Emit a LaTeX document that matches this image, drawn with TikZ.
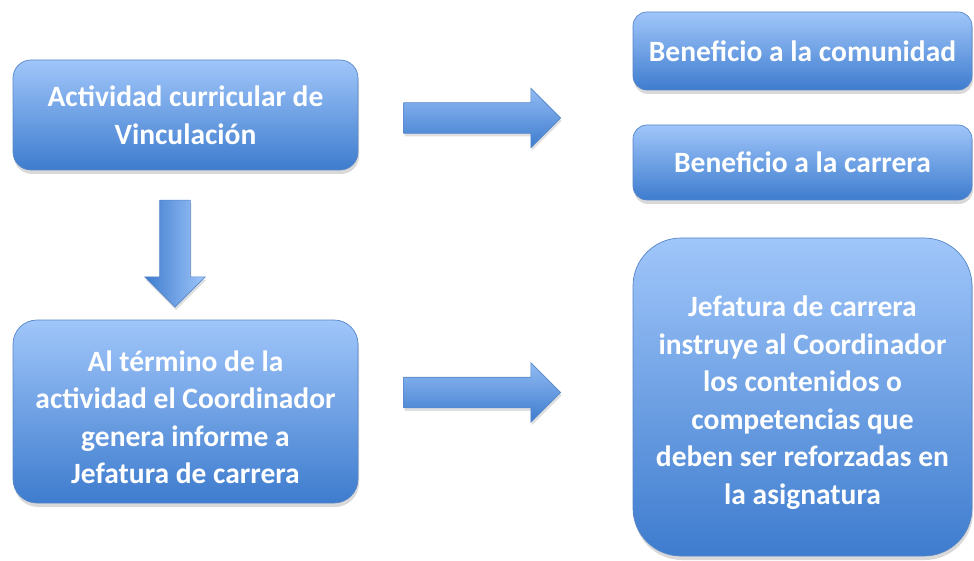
\documentclass[tikz,border=0pt]{standalone}
\usepackage{fontspec}
\setmainfont{Carlito}
\usetikzlibrary{shapes.arrows,shadows}
\definecolor{boxtop}{RGB}{160,198,250}
\definecolor{boxbot}{RGB}{62,124,206}
\definecolor{boxline}{RGB}{86,134,200}
\newcommand{\firstgap}{\rule{0pt}{32pt}}
\begin{document}
\begin{tikzpicture}[x=1pt, y=-1pt, every node/.style={text centered},
	stagebox/.style={draw=boxline, line width=0.7pt, top color=boxtop, bottom color=boxbot,
		rounded corners=18pt, text=white, align=center, inner sep=0pt,
		font=\bfseries\fontsize{29.5}{37.5}\selectfont,
		drop shadow={shadow xshift=1pt, shadow yshift=-4pt, opacity=0.3}},
	flowarrow/.style={single arrow, draw=boxline, line width=0.6pt, inner xsep=0pt, inner ysep=15pt,
		top color=boxtop!85!boxbot, bottom color=boxbot,
		single arrow tip angle=90,
		drop shadow={shadow xshift=1pt, shadow yshift=-3pt, opacity=0.25}}]
	\useasboundingbox (0,0) rectangle (974,561);

	\draw (185.5,115)	node[stagebox, minimum width=345pt, minimum height=110pt] (actividad)
				{Actividad curricular de\\Vinculación}

			(185.5,411.5)	node[stagebox, minimum width=345pt, minimum height=183pt, rounded corners=24pt] (informe)
				{\firstgap Al término de la\\actividad el Coordinador\\genera informe a\\Jefatura de carrera}


			(802.5,51)	node[stagebox, minimum width=339pt, minimum height=78pt, rounded corners=14pt] (comunidad)
				{Beneficio a la comunidad}

			(802.5,162.5)	node[stagebox, minimum width=339pt, minimum height=75pt, rounded corners=14pt] (carrera)
				{Beneficio a la carrera}

			(802.5,397)	node[stagebox, minimum width=339pt, minimum height=318pt, rounded corners=48pt] (jefatura)
				{\firstgap Jefatura de carrera\\instruye al Coordinador\\los contenidos o\\competencias que\\deben ser reforzadas en\\la asignatura}
	;

	\draw (474.5,118)	node[flowarrow, minimum height=157pt, single arrow head extend=14.5pt] (beneficios) {}
			(474.5,392.5)	node[flowarrow, minimum height=157pt, single arrow head extend=14.5pt] (instruccion) {}
			(175,246)	node[flowarrow, shape border rotate=270, inner xsep=15pt, inner ysep=0pt, minimum height=107pt,
				single arrow head extend=15pt, left color=boxbot, right color=boxtop] (termino) {}
	;
\end{tikzpicture}
\end{document}
